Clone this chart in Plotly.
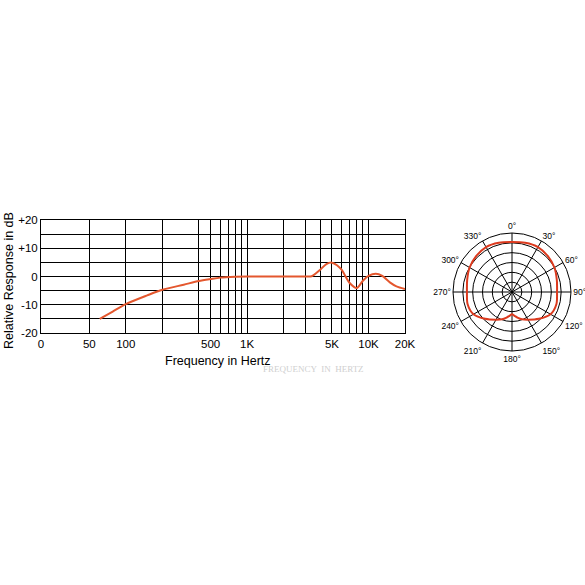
import math
import plotly.graph_objects as go

# Frequency response data (Hz, dB)
freq_hz = [61, 78, 100, 150, 200, 300, 400, 500, 600, 800, 1000, 2000, 3000, 3400,
           4000, 4500, 5000, 5500, 6000, 7000, 8000, 9000, 10000, 11500, 13000,
           15000, 17000, 20000]
resp_db = [-15, -12.4, -9.8, -6.7, -4.7, -2.9, -1.6, -0.9, -0.4, -0.1, 0, 0, 0, 0.1,
           2.4, 4.4, 4.9, 4.0, 2.4, -2.3, -4.1, -1.5, 0.2, 1.0, 0.2,
           -2.1, -3.5, -4.4]

# Frequency axis grid / labels
x_tickvals = [20, 50, 100, 200, 400, 500, 600, 700, 800, 900, 1000,
              2000, 3000, 4000, 5000, 6000, 7000, 8000, 9000, 10000, 20000]
x_ticktext = ["0", "50", "100", "", "", "500", "", "", "", "", "1K",
              "", "", "", "5K", "", "", "", "", "10K", "20K"]
y_tickvals = [-20, -15, -10, -5, 0, 5, 10, 15, 20]
y_ticktext = ["-20", "", "-10", "", "0", "", "+10", "", "+20"]

# Polar pattern data (degrees, relative radius; outer ring = 30)
half_theta = [0, 15, 30, 45, 60, 75, 90, 105, 120, 135, 150, 160, 168, 174, 180]
half_r = [25.4, 25.9, 26.4, 25.8, 24.9, 23.6, 22.9, 23.4, 22.6, 19.3, 16.3, 14.8, 13.3, 12.2, 11.3]
polar_theta = half_theta + [360 - t for t in reversed(half_theta[:-1])]
polar_r = half_r + list(reversed(half_r[:-1]))
angle_vals = list(range(0, 360, 30))
angle_text = [f"{a}°" for a in angle_vals]

W = H = 585
font_main = "Liberation Sans"


def px(x):
    return x / W


def py(y):
    return 1 - y / H


fig = go.Figure()
fig.add_trace(go.Scatter(
    x=freq_hz, y=resp_db, mode="lines",
    line=dict(color="#e4572e", width=2, shape="spline", smoothing=0.8),
    showlegend=False, hoverinfo="skip"))

fig.add_trace(go.Scatterpolar(
    theta=polar_theta, r=polar_r, mode="lines",
    line=dict(color="#dc3a1e", width=2, shape="spline", smoothing=0.8),
    showlegend=False, hoverinfo="skip", subplot="polar"))

fig.update_layout(
    width=W, height=H,
    margin=dict(l=0, r=0, t=0, b=0, autoexpand=False),
    paper_bgcolor="white", plot_bgcolor="white",
    font=dict(family=font_main, color="black", size=11),
    xaxis=dict(
        type="log", range=[math.log10(20), math.log10(20000)],
        domain=[px(41), px(405)], automargin=False,
        tickvals=x_tickvals, ticktext=x_ticktext,
        showgrid=True, gridcolor="black", gridwidth=1,
        showline=True, linecolor="black", linewidth=1, mirror=True,
        ticks="", zeroline=False,
        tickfont=dict(size=11.5),
    ),
    yaxis=dict(
        range=[-20, 20], automargin=False,
        domain=[py(333), py(220)],
        tickvals=y_tickvals, ticktext=y_ticktext,
        showgrid=True, gridcolor="black", gridwidth=1,
        showline=True, linecolor="black", linewidth=1, mirror=True,
        ticks="", zeroline=False,
        tickfont=dict(size=11.5),
    ),
    polar=dict(
        domain=dict(x=[px(453), px(571)], y=[py(351), py(233)]),
        bgcolor="white",
        angularaxis=dict(
            rotation=90, direction="clockwise",
            tickvals=angle_vals, ticktext=angle_text,
            showgrid=True, gridcolor="black", gridwidth=1,
            showline=True, linecolor="black", linewidth=1,
            ticks="", tickfont=dict(size=8.5),
        ),
        radialaxis=dict(
            range=[0, 30], dtick=5,
            showgrid=True, gridcolor="black", gridwidth=1,
            showline=False, showticklabels=False, ticks="",
        ),
    ),
    annotations=[
        dict(text="Frequency in Hertz", x=px(218), y=py(361),
             xref="paper", yref="paper", showarrow=False,
             xanchor="center", yanchor="middle",
             font=dict(size=12.5)),
        dict(text="Relative Response in dB", x=px(9), y=py(281),
             xref="paper", yref="paper", showarrow=False, textangle=-90,
             xanchor="center", yanchor="middle",
             font=dict(size=12.5)),
        dict(text="FREQUENCY  IN  HERTZ", x=px(313), y=py(369),
             xref="paper", yref="paper", showarrow=False,
             font=dict(family="Liberation Serif", size=9, color="#cfcfcf")),
    ],
)

fig.write_html(
    "out.html",
    config={"displayModeBar": False, "staticPlot": True},
    post_script="document.body.style.margin='0';document.body.style.overflow='hidden';",
)
